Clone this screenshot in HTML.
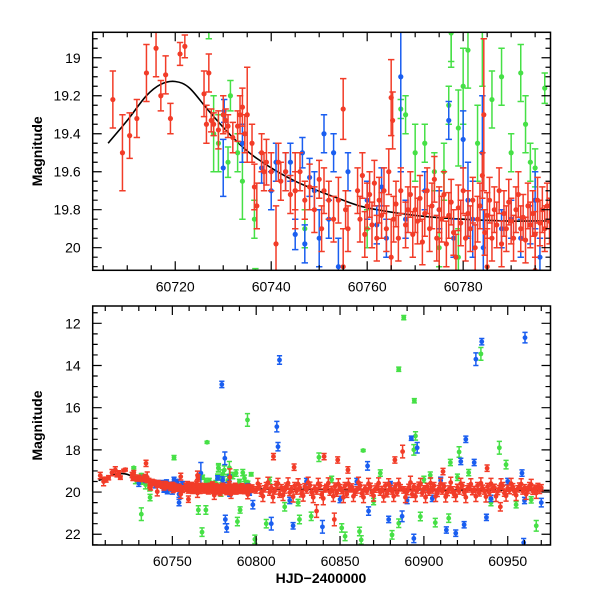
<!DOCTYPE html>
<html><head><meta charset="utf-8"><style>
html,body{margin:0;padding:0;background:#fff;overflow:hidden;width:600px;height:600px}
svg{display:block}
text{font-family:"Liberation Sans",sans-serif;fill:#000}
</style></head><body>
<svg id="chart" width="600" height="600" viewBox="0 0 600 600" xmlns="http://www.w3.org/2000/svg"></svg>
<script>
// ---- data: [HJD, magnitude, error] ----
const curveKnots = [[60706,19.45],[60710,19.33],[60714,19.2],[60717,19.14],[60720,19.125],[60723,19.16],[60727,19.28],[60732,19.42],[60737,19.53],[60745,19.65],[60755,19.75],[60760,19.79],[60770,19.83],[60780,19.85],[60790,19.86],[60800,19.86],[60850,19.88],[60900,19.9],[60975,19.92]];
const redPoints = [[60707,19.22,0.15],[60709,19.5,0.2],[60710.5,19.41,0.12],[60712,19.32,0.1],[60714,19.08,0.15],[60716,18.95,0.15],[60717,19.2,0.08],[60718,19.09,0.1],[60719,19.32,0.08],[60721,18.98,0.06],[60722,18.94,0.06],
[60726,19.19,0.12],[60726.5,19.35,0.1],[60727,19.08,0.1],[60727.5,19.33,0.06],[60728,19.35,0.06],[60729,19.38,0.1],[60730,19.3,0.1],[60730.5,19.33,0.06],[60731,19.36,0.06],[60732,19.42,0.08],[60733,19.36,0.08],[60733.5,19.3,0.1],[60734,19.26,0.1],[60734.5,19.4,0.1],[60735,19.3,0.25],[60736,19.45,0.1],[60736.5,19.68,0.12],[60737,19.78,0.12],[60738,19.5,0.1],[60738.5,19.6,0.1],[60739,19.55,0.12],[60740,19.6,0.1],[60741,19.98,0.2],[60741.5,19.55,0.1],[60742,19.65,0.1],[60743,19.6,0.1],[60744,19.72,0.1],[60745,19.7,0.1],[60746,19.6,0.1],[60747,19.75,0.1],[60748,19.68,0.12],[60749,19.8,0.12],[60750,19.64,0.1],[60750.5,19.9,0.12],[60751,19.7,0.12],[60752,19.75,0.1],[60753,19.85,0.12],[60754,19.75,0.12],[60755,19.27,0.16],[60755.5,19.8,0.1],[60756,19.9,0.12],
[60758,19.7,0.12],[60758.5,19.85,0.12],[60759,19.62,0.12],[60759.5,19.93,0.12],[60760,19.78,0.12],[60760.5,19.72,0.12],[60761,19.88,0.12],[60761.5,19.66,0.12],[60762,19.95,0.12],[60762.5,19.75,0.12],[60763,19.83,0.12],[60763.5,19.7,0.12],[60764,19.9,0.12],[60764.5,19.6,0.12],[60765,19.21,0.2],[60765.3,19.33,0.15],[60765.5,19.85,0.12],[60766,19.77,0.12],[60766.5,19.95,0.12],[60767,19.7,0.12],[60768,19.88,0.12],[60768.5,19.8,0.12],[60769,19.72,0.12],[60769.5,19.93,0.12],[60770,19.8,0.12],[60770.5,19.86,0.12],[60771,19.74,0.12],[60771.5,19.97,0.12],[60772,19.82,0.12],[60772.5,19.7,0.12],[60773,19.9,0.12],[60773.5,19.78,0.12],[60774,19.64,0.12],[60774.5,19.95,0.12],[60775,19.8,0.12],[60775.5,19.85,0.12],[60776,19.72,0.12],[60776.5,19.98,0.12],[60777,19.83,0.12],[60777.5,19.76,0.12],[60778,19.92,0.12],[60778.5,20.05,0.12],[60779,19.79,0.12],[60779.5,19.87,0.12],[60780,19.7,0.12],[60780.5,19.95,0.12],[60781,19.82,0.12],[60781.5,19.9,0.12],[60782,19.75,0.12],[60782.5,20.0,0.12],[60783,19.85,0.12],[60783.5,19.78,0.12],[60784,19.62,0.12],[60784.3,19.3,0.4],[60784.5,19.92,0.12],[60785,19.83,0.12],[60785.5,19.75,0.12],[60786,19.95,0.12],[60786.5,19.8,0.12],[60787,19.88,0.12],[60787.5,19.7,0.12],[60788,19.98,0.12],[60788.5,19.82,0.12],[60789,19.9,0.12],[60789.5,19.76,0.12],[60790,19.86,0.12],[60790.5,19.95,0.12],[60791,19.8,0.12],[60791.5,19.72,0.12],[60792,19.9,0.12],[60792.5,19.84,0.12],[60793,19.96,0.12],[60793.5,19.78,0.12],[60794,19.88,0.12],[60794.5,19.82,0.12],[60795,19.93,0.12],[60795.5,19.75,0.12],[60796,19.87,0.12],[60796.5,19.8,0.12],[60797,19.9,0.12],[60797.5,19.78,0.12],[60798,19.86,0.12],
[60734.3,18.64,0.15],[60840.5,18.32,0.15],[60848.6,18.48,0.15],[60887.3,18.08,0.3],[60882.7,18.48,0.15],[60810.3,18.32,0.15],[60822.6,18.82,0.15],[60854.7,18.95,0.15],[60911.4,19.03,0.15],[60937.7,18.87,0.15],[60846.6,21.3,0.3],[60836,20.9,0.3],[60759.6,20.34,0.15],[60945.6,20.7,0.2]];
const redLate = [[60800,19.9],[60802,19.75],[60803,20.05],[60805,19.85],[60806,19.7],[60808,20.0],[60809,19.8],[60811,19.95],[60812,19.65],[60814,20.1],[60815,19.8],[60817,19.9],[60818,19.72],[60820,20.02],[60821,19.85],[60823,19.7],[60824,19.95],[60826,19.8],[60827,20.08],[60829,19.75],[60830,19.9],[60832,19.68],[60833,20.0],[60835,19.82],[60836,19.95],[60838,19.7],[60839,20.12],[60841,19.85],[60842,19.78],[60844,20.0],[60845,19.88],[60847,19.72],[60848,20.05],[60850,19.8],[60851,19.93],[60853,19.7],[60854,20.1],[60856,19.85],[60857,19.76],[60859,20.0],[60860,19.9],[60862,19.7],[60863,20.06],[60865,19.82],[60866,19.95],[60868,19.73],[60869,20.02],[60871,19.86],[60872,19.77],[60874,20.0],[60875,19.88],[60877,19.7],[60878,20.08],[60880,19.83],[60881,19.95],[60883,19.72],[60884,20.03],[60886,19.8],[60888,19.9],[60890,19.98],[60891,19.78],[60893,20.1],[60894,19.75],[60896,19.9],[60897,19.68],[60899,20.04],[60900,19.85],[60902,19.74],[60903,20.0],[60905,19.9],[60906,19.7],[60908,20.06],[60909,19.84],[60911,19.95],[60912,19.72],[60914,20.02],[60915,19.86],[60917,19.9],[60918,20.1],[60920,19.78],[60921,19.95],[60923,19.7],[60924,20.0],[60926,19.85],[60927,19.76],[60929,19.98],[60930,19.88],[60932,19.7],[60933,20.04],[60935,19.82],[60936,19.95],[60938,19.74],[60939,20.02],[60941,19.86],[60942,19.78],[60944,19.97],[60945,19.84],[60947,19.7],[60948,20.05],[60950,19.82],[60951,19.93],[60953,19.75],[60954,19.98],[60956,19.85],[60957,19.72],[60959,19.95],[60960,19.8],[60962,19.9],[60963,19.7],[60965,19.96],[60966,19.82],[60968,19.74],[60969,19.92],[60970,19.8]];
const redLate2 = [[60801,19.6,0.25],[60804,20.2,0.25],[60807,19.55,0.25],[60810,20.25,0.25],[60813,19.6,0.25],[60816,20.15,0.25],[60819,19.58,0.25],[60822,20.22,0.25],[60825,19.62,0.25],[60828,20.18,0.25],[60831,19.55,0.25],[60834,20.25,0.25],[60837,19.6,0.25],[60840,20.3,0.3],[60843,19.58,0.25],[60846,20.2,0.25],[60849,19.62,0.25],[60852,20.25,0.25],[60855,19.6,0.25],[60858,20.2,0.25],[60861,19.55,0.25],[60864,20.25,0.25],[60867,19.6,0.25],[60870,20.18,0.25],[60873,19.58,0.25],[60876,20.22,0.25],[60879,19.62,0.25],[60882,20.2,0.25],[60885,19.6,0.25],[60889,20.25,0.25],[60892,19.55,0.3],[60895,20.2,0.25],[60898,19.6,0.25],[60901,20.25,0.25],[60904,19.58,0.25],[60907,20.2,0.25],[60910,19.6,0.25],[60913,20.22,0.25],[60916,19.55,0.25],[60919,20.2,0.25],[60922,19.6,0.25],[60925,20.25,0.25],[60928,19.62,0.25],[60931,20.2,0.25],[60934,19.58,0.25],[60937,20.22,0.25],[60940,19.6,0.25],[60943,20.2,0.25],[60946,19.62,0.25],[60949,20.18,0.25],[60952,19.6,0.25],[60955,20.15,0.25],[60958,19.62,0.25],[60961,20.1,0.25],[60964,19.65,0.25],[60967,20.05,0.25],[60745,19.7,0.2],[60755,20.1,0.2],[60765,20.05,0.2],[60775,20.15,0.2],[60785,20.1,0.2],[60795,20.12,0.2]];
const bluePoints = [[60730,19.58,0.15],[60730.2,19.28,0.06],[60734,19.45,0.1],[60738,19.58,0.08],[60740,19.7,0.1],[60741,19.55,0.1],[60743,19.6,0.1],[60744,19.55,0.1],[60745,19.93,0.08],[60746.5,19.5,0.08],[60747,19.98,0.1],[60748,19.63,0.1],[60749,19.7,0.1],[60750,19.95,0.15],[60751,19.4,0.1],[60752,19.85,0.1],[60753,19.5,0.1],[60754,20.1,0.15],[60756,19.6,0.1],[60760,19.75,0.1],[60762,19.88,0.1],[60763,19.68,0.1],[60764,19.95,0.1],[60767,19.1,0.5],[60768,19.85,0.1],[60772,19.7,0.1],[60775,19.8,0.1],[60777,19.33,0.1],[60778,19.95,0.1],[60780,19.43,0.15],[60781,19.75,0.2],[60782,19.85,0.2],[60784,19.5,0.3],[60784.2,20.0,0.2],[60788,19.9,0.1],[60790,19.85,0.1],[60792,19.95,0.1],[60794,19.88,0.1],[60795,19.75,0.15],[60796,20.05,0.1],
[60779.5,14.9,0.15],[60813.9,13.74,0.2],[60812.3,16.9,0.25],[60813,17.85,0.2],[60931,13.7,0.3],[60934.5,12.87,0.15],[60960.3,12.68,0.25],[60892.5,17.45,0.1],[60896,17.9,0.25],[60925,17.5,0.15],[60781.3,18.4,0.3],[60781.6,21.3,0.2],[60782.4,21.7,0.2],[60754,20.5,0.15],[60822,21.6,0.15],[60839.5,21.65,0.3],[60809,21.5,0.3],[60894,22.2,0.2],[60913.4,21.8,0.15],[60919,21.95,0.15],[60924,21.55,0.15],[60937.3,21.2,0.15],[60959.5,22.4,0.2],[60970,20.5,0.2],[60887,21.15,0.25],[60879,21.3,0.15],[60866.4,18.76,0.2],[60922,18.55,0.15],[60930,18.6,0.15],[60958.5,19.1,0.15],[60798,20.6,0.2],[60867,20.9,0.2],[60905,20.3,0.15],[60880,19.6,0.1],[60850,20.35,0.15],[60940,20.3,0.15],[60820,20.4,0.15],[60830,19.5,0.15],[60860,19.5,0.15],[60890,20.4,0.15],[60950,19.5,0.15],[60960,20.4,0.15],[60910,19.45,0.15]];
const greenPoints = [[60727,18.85,0.05],[60728,19.4,0.2],[60729,19.45,0.15],[60731,19.55,0.08],[60731.5,19.2,0.08],[60733,19.5,0.1],[60734,19.65,0.2],[60736.5,19.85,0.1],[60747,19.9,0.1],[60760,19.9,0.1],[60767,19.27,0.05],[60768,19.3,0.1],[60770,19.5,0.15],[60772,19.45,0.1],[60774,19.6,0.1],[60776,19.6,0.15],[60777,19.25,0.1],[60777.5,18.85,0.2],[60779,19.37,0.2],[60780,19.15,0.2],[60781,18.96,0.2],[60783,19.45,0.2],[60784,18.85,0.3],[60786,19.22,0.15],[60788,19.1,0.15],[60790,19.5,0.1],[60792,19.08,0.15],[60793,19.35,0.15],[60794,19.55,0.1],[60795,19.58,0.1],[60797,19.16,0.08],[60775,20.0,0.1],[60779,20.05,0.15],
[60888,11.73,0.1],[60885,14.18,0.1],[60894.3,15.67,0.1],[60934,13.45,0.3],[60794.8,16.58,0.3],[60770.7,17.64,0.05],[60751,18.37,0.1],[60863.8,18.03,0.05],[60895,17.34,0.2],[60894,18.0,0.25],[60921,18.1,0.25],[60945,17.9,0.3],[60915.8,18.6,0.15],[60837.4,18.35,0.2],[60731.5,21.05,0.3],[60736.7,20.26,0.15],[60767.7,21.9,0.2],[60765.5,20.85,0.2],[60770,20.85,0.2],[60788.8,21.4,0.2],[60799.2,22.24,0.2],[60806,21.5,0.2],[60825.8,21.3,0.2],[60851,21.7,0.2],[60853,22.1,0.2],[60861.6,21.87,0.2],[60862.6,22.27,0.2],[60881,22.03,0.2],[60885,21.48,0.2],[60906.8,21.45,0.2],[60897.9,21.16,0.2],[60914.8,21.24,0.2],[60967,21.6,0.25],[60964,20.37,0.15],[60949,18.7,0.2],[60926.7,19.08,0.15],[60790.4,20.85,0.15],[60777.5,18.87,0.15],[60832.8,21.15,0.2],[60817,20.7,0.2],[60874,19.1,0.15],[60903.8,19.2,0.15],[60845,19.4,0.15],[60920,19.3,0.15],[60955,20.6,0.15],[60808,19.45,0.15],[60825,20.5,0.15],[60870,20.45,0.15],[60900,19.4,0.15],[60940,20.5,0.15]];
const topXTicks = [60720,60740,60760,60780];
const topYTicks = [19,19.2,19.4,19.6,19.8,20];
const topYLabels = ["19","19.2","19.4","19.6","19.8","20"];
const botXTicks = [60750,60800,60850,60900,60950];
const botYTicks = [12,14,16,18,20,22];

const NS = "http://www.w3.org/2000/svg";
const svg = document.getElementById('chart');
function el(tag, attrs, parent){const e=document.createElementNS(NS,tag);for(const k in attrs)e.setAttribute(k,attrs[k]);(parent||svg).appendChild(e);return e;}

const panels = [
 {name:'top', x0:92.7, x1:550.5, y0:32.3, y1:270.3, xmin:60702.8, xmax:60798.2, ymin:18.866, ymax:20.119, xMajor:topXTicks, xMinorStep:5, yMajor:topYTicks, yLabels:topYLabels, yMinorStep:0.05, pr:2.6, cap:3.2},
 {name:'bottom', x0:92.7, x1:550.5, y0:306, y1:545, xmin:60702.5, xmax:60975.5, ymin:11.18, ymax:22.51, xMajor:botXTicks, xMinorStep:10, yMajor:botYTicks, yLabels:botYTicks.map(String), yMinorStep:0.5, pr:2.4, cap:2.6}
];
const colors = {green:'#46e046', blue:'#1a5ef0', red:'#f23c28'};

function smoothPath(P){
  let d='M'+P[0][0].toFixed(1)+','+P[0][1].toFixed(1);
  for(let i=0;i<P.length-1;i++){
    const p0=P[Math.max(0,i-1)],p1=P[i],p2=P[i+1],p3=P[Math.min(P.length-1,i+2)];
    const c1=[p1[0]+(p2[0]-p0[0])/6,p1[1]+(p2[1]-p0[1])/6];
    const c2=[p2[0]-(p3[0]-p1[0])/6,p2[1]-(p3[1]-p1[1])/6];
    d+=`C${c1[0].toFixed(1)},${c1[1].toFixed(1)} ${c2[0].toFixed(1)},${c2[1].toFixed(1)} ${p2[0].toFixed(1)},${p2[1].toFixed(1)}`;
  }
  return d;
}

panels.forEach((p,pi)=>{
  const sx = v => p.x0 + (v-p.xmin)/(p.xmax-p.xmin)*(p.x1-p.x0);
  const sy = v => p.y0 + (v-p.ymin)/(p.ymax-p.ymin)*(p.y1-p.y0);
  const g = el('g',{});
  
  
  const cp = el('clipPath',{id:'clip'+pi}, g);
  el('rect',{x:p.x0,y:p.y0,width:p.x1-p.x0,height:p.y1-p.y0}, cp);
  const plot = el('g',{'clip-path':'url(#clip'+pi+')'}, g);
  
  
  const cl = el('path',{d:smoothPath(curveKnots.map(k=>[sx(k[0]),sy(k[1])])),fill:'none',stroke:'#000','stroke-width':1.6}, plot);
  
  
  const series = [['green',greenPoints],['blue',bluePoints],['red',redLate2],['red',redPoints],['red',redLate]];
  series.forEach(([c,arr])=>{
    const sg = el('g',{stroke:colors[c],fill:colors[c],'stroke-width':1.5}, plot);
    
    
    arr.forEach(d=>{
      const e = d.length>2 ? d[2] : 0.15;
      const x=sx(d[0]), ya=sy(d[1]-e), yb=sy(d[1]+e), y=sy(d[1]);
      el('path',{d:`M${x},${ya}V${yb}M${x-p.cap},${ya}H${x+p.cap}M${x-p.cap},${yb}H${x+p.cap}`,fill:'none'}, sg);
      const pt = el('circle',{cx:x,cy:y,r:p.pr,stroke:'none'}, sg);
      
      
    });
  });
  const fr = el('rect',{x:p.x0,y:p.y0,width:p.x1-p.x0,height:p.y1-p.y0,fill:'none',stroke:'#000','stroke-width':1.5}, g);
  
  
  const tg = el('g',{stroke:'#000','stroke-width':1.2}, g);
  
  
  for(let v=Math.ceil(p.xmin/p.xMinorStep)*p.xMinorStep; v<=p.xmax; v+=p.xMinorStep){
    const major = p.xMajor.some(m=>Math.abs(m-v)<1e-6);
    const L = major?9:5, x=sx(v);
    el('path',{d:`M${x},${p.y1}v${-L}M${x},${p.y0}v${L}`}, tg);
  }
  for(let i=Math.ceil(p.ymin/p.yMinorStep-1e-6); i*p.yMinorStep<=p.ymax+1e-9; i++){
    const v=i*p.yMinorStep;
    const major = p.yMajor.some(m=>Math.abs(m-v)<1e-6);
    const L = major?9:5, y=sy(v);
    el('path',{d:`M${p.x0},${y}h${L}M${p.x1},${y}h${-L}`}, tg);
  }
  p.xMajor.forEach(v=>{
    const t = el('text',{x:sx(v),y:p.y1+21,'text-anchor':'middle','font-size':14}, g);
    t.textContent = String(v);
    
    
  });
  p.yMajor.forEach((v,i)=>{
    const t = el('text',{x:p.x0-12,y:sy(v)+5,'text-anchor':'end','font-size':14}, g);
    t.textContent = p.yLabels[i];
    
    
  });
  const yc=(p.y0+p.y1)/2;
  const yt = el('text',{x:42,y:yc,'text-anchor':'middle','font-size':14,'font-weight':'bold',transform:`rotate(-90 42 ${yc})`}, g);
  yt.textContent='Magnitude';
  
  
});
const xt = el('text',{x:321,y:583,'text-anchor':'middle','font-size':14,'font-weight':'bold'});
xt.textContent='HJD\u22122400000';


</script>
</body></html>
